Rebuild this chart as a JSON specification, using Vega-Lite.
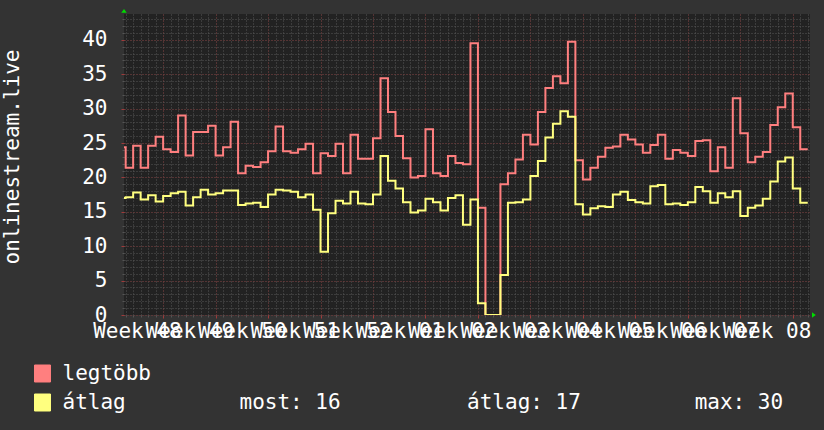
{
"$schema":"https://vega.github.io/schema/vega-lite/v6.json",
"width":686,"height":301,
"autosize":{"type":"none"},
"padding":{"left":124,"top":14,"right":14,"bottom":115},
"background":"#333333",
"config":{
  "view":{"fill":"#222222","stroke":null},
  "font":"DejaVu Sans Mono",
  "axis":{"labelFont":"DejaVu Sans Mono","titleFont":"DejaVu Sans Mono"},
  "legend":{"labelFont":"DejaVu Sans Mono"}
},
"layer":[
 {
  "data":{"values":[
{"day":-1,"legtöbb":24.4,"átlag":17.0},
{"day":0,"legtöbb":21.4,"átlag":17.1},
{"day":1,"legtöbb":24.6,"átlag":17.8},
{"day":2,"legtöbb":21.4,"átlag":16.8},
{"day":3,"legtöbb":24.6,"átlag":17.4},
{"day":4,"legtöbb":25.9,"átlag":16.5},
{"day":5,"legtöbb":24.1,"átlag":17.3},
{"day":6,"legtöbb":23.7,"átlag":17.7},
{"day":7,"legtöbb":29.0,"átlag":17.9},
{"day":8,"legtöbb":23.2,"átlag":15.9},
{"day":9,"legtöbb":26.6,"átlag":17.1},
{"day":10,"legtöbb":26.6,"átlag":18.2},
{"day":11,"legtöbb":27.5,"átlag":17.5},
{"day":12,"legtöbb":23.2,"átlag":17.7},
{"day":13,"legtöbb":24.4,"átlag":18.1},
{"day":14,"legtöbb":28.1,"átlag":18.1},
{"day":15,"legtöbb":20.6,"átlag":16.0},
{"day":16,"legtöbb":21.7,"átlag":16.2},
{"day":17,"legtöbb":21.5,"átlag":16.3},
{"day":18,"legtöbb":22.2,"átlag":15.7},
{"day":19,"legtöbb":23.8,"átlag":17.5},
{"day":20,"legtöbb":27.4,"átlag":18.2},
{"day":21,"legtöbb":23.8,"átlag":18.1},
{"day":22,"legtöbb":23.6,"átlag":17.9},
{"day":23,"legtöbb":24.1,"átlag":17.1},
{"day":24,"legtöbb":24.9,"átlag":17.5},
{"day":25,"legtöbb":20.6,"átlag":15.3},
{"day":26,"legtöbb":23.5,"átlag":9.2},
{"day":27,"legtöbb":23.1,"átlag":14.8},
{"day":28,"legtöbb":24.9,"átlag":16.6},
{"day":29,"legtöbb":20.6,"átlag":16.2},
{"day":30,"legtöbb":26.2,"átlag":17.9},
{"day":31,"legtöbb":22.7,"átlag":16.2},
{"day":32,"legtöbb":22.7,"átlag":16.1},
{"day":33,"legtöbb":25.7,"átlag":17.5},
{"day":34,"legtöbb":34.4,"átlag":23.1},
{"day":35,"legtöbb":29.5,"átlag":19.5},
{"day":36,"legtöbb":26.0,"átlag":18.4},
{"day":37,"legtöbb":22.8,"átlag":16.4},
{"day":38,"legtöbb":20.0,"átlag":14.9},
{"day":39,"legtöbb":20.2,"átlag":15.2},
{"day":40,"legtöbb":27.0,"átlag":16.9},
{"day":41,"legtöbb":20.6,"átlag":16.4},
{"day":42,"legtöbb":20.2,"átlag":15.2},
{"day":43,"legtöbb":23.1,"átlag":17.0},
{"day":44,"legtöbb":22.1,"átlag":17.4},
{"day":45,"legtöbb":21.9,"átlag":13.1},
{"day":46,"legtöbb":39.5,"átlag":16.8},
{"day":47,"legtöbb":15.6,"átlag":1.7},
{"day":48,"legtöbb":0,"átlag":0},
{"day":49,"legtöbb":0,"átlag":0},
{"day":50,"legtöbb":19.0,"átlag":5.8},
{"day":51,"legtöbb":20.6,"átlag":16.3},
{"day":52,"legtöbb":22.6,"átlag":16.4},
{"day":53,"legtöbb":26.2,"átlag":16.8},
{"day":54,"legtöbb":24.8,"átlag":20.2},
{"day":55,"legtöbb":29.5,"átlag":22.4},
{"day":56,"legtöbb":33.0,"átlag":25.8},
{"day":57,"legtöbb":34.7,"átlag":27.8},
{"day":58,"legtöbb":33.7,"átlag":29.6},
{"day":59,"legtöbb":39.7,"átlag":28.8},
{"day":60,"legtöbb":22.5,"átlag":16.1},
{"day":61,"legtöbb":19.7,"átlag":14.6},
{"day":62,"legtöbb":21.4,"átlag":15.5},
{"day":63,"legtöbb":23.0,"átlag":15.8},
{"day":64,"legtöbb":24.3,"átlag":15.7},
{"day":65,"legtöbb":24.5,"átlag":17.5},
{"day":66,"legtöbb":26.2,"átlag":17.9},
{"day":67,"legtöbb":25.5,"átlag":16.7},
{"day":68,"legtöbb":24.8,"átlag":16.4},
{"day":69,"legtöbb":23.6,"átlag":16.2},
{"day":70,"legtöbb":24.7,"átlag":18.7},
{"day":71,"legtöbb":26.2,"átlag":18.9},
{"day":72,"legtöbb":22.7,"átlag":16.1},
{"day":73,"legtöbb":24.0,"átlag":16.2},
{"day":74,"legtöbb":23.6,"átlag":16.0},
{"day":75,"legtöbb":23.1,"átlag":16.4},
{"day":76,"legtöbb":25.3,"átlag":18.6},
{"day":77,"legtöbb":25.4,"átlag":18.0},
{"day":78,"legtöbb":20.9,"átlag":16.3},
{"day":79,"legtöbb":24.4,"átlag":17.7},
{"day":80,"legtöbb":21.4,"átlag":17.1},
{"day":81,"legtöbb":31.5,"átlag":18.0},
{"day":82,"legtöbb":26.4,"átlag":14.4},
{"day":83,"legtöbb":22.2,"átlag":15.6},
{"day":84,"legtöbb":23.0,"átlag":15.9},
{"day":85,"legtöbb":23.7,"átlag":16.9},
{"day":86,"legtöbb":27.6,"átlag":19.4},
{"day":87,"legtöbb":30.2,"átlag":22.3},
{"day":88,"legtöbb":32.2,"átlag":22.9},
{"day":89,"legtöbb":27.3,"átlag":18.4},
{"day":90,"legtöbb":24.1,"átlag":16.3},
{"day":91,"legtöbb":24.1,"átlag":16.3}
  ]},
  "transform":[{"fold":["legtöbb","átlag"],"as":["series","value"]}],
  "mark":{"type":"line","interpolate":"step-after","strokeWidth":2,"clip":true},
  "encoding":{
   "x":{"field":"day","type":"quantitative",
        "scale":{"domain":[-0.22,91.3],"nice":false,"zero":false},
        "axis":{"orient":"bottom","values":[0,1,2,3,4,5,6,7,8,9,10,11,12,13,14,15,16,17,18,19,20,21,22,23,24,25,26,27,28,29,30,31,32,33,34,35,36,37,38,39,40,41,42,43,44,45,46,47,48,49,50,51,52,53,54,55,56,57,58,59,60,61,62,63,64,65,66,67,68,69,70,71,72,73,74,75,76,77,78,79,80,81,82,83,84,85,86,87,88,89,90,91],
                "grid":true,"gridColor":"#565656","gridDash":[1,2],"gridWidth":1,
                "labels":false,"ticks":true,"tickSize":2,"tickColor":"#555555","domain":false,"title":null}},
   "y":{"field":"value","type":"quantitative",
        "scale":{"domain":[0,43.75],"nice":false,"zero":false},
        "axis":{"orient":"left","values":[0,1,2,3,4,5,6,7,8,9,10,11,12,13,14,15,16,17,18,19,20,21,22,23,24,25,26,27,28,29,30,31,32,33,34,35,36,37,38,39,40,41,42,43],
                "grid":true,"gridColor":"#565656","gridDash":[1,2],"gridWidth":1,
                "labels":false,"ticks":true,"tickSize":2,"tickColor":"#555555","domain":false,"title":null}},
   "color":{"field":"series","type":"nominal",
            "scale":{"domain":["legtöbb","átlag"],"range":["#ff7f7f","#ffff7f"]},
            "legend":{"orient":"none","legendX":-92,"legendY":349,"direction":"vertical","title":null,
                      "symbolType":"M-0.94,-1H0.94V1H-0.94Z","symbolSize":289,
                      "symbolStrokeColor":"#000000","symbolStrokeWidth":1,
                      "labelFontSize":21,"labelColor":"#ffffff","labelLimit":0,"labelOffset":9.5,
                      "rowPadding":7,"padding":0,
                      "labelExpr":"datum.label == 'átlag' ? 'átlag\u00a0\u00a0\u00a0\u00a0\u00a0\u00a0\u00a0\u00a0\u00a0most:\u00a016\u00a0\u00a0\u00a0\u00a0\u00a0\u00a0\u00a0\u00a0\u00a0\u00a0átlag:\u00a017\u00a0\u00a0\u00a0\u00a0\u00a0\u00a0\u00a0\u00a0\u00a0max:\u00a030' : datum.label",
                      "encode":{"symbols":{"update":{"shape":{"value":"M-0.94,-1H0.94V1H-0.94Z"},"size":{"value":289},"fill":{"scale":"color","field":"value"},"fillOpacity":{"value":1},"stroke":{"value":"#000000"},"strokeWidth":{"value":1},"opacity":{"value":1}}}}}}
  }
 },
 {
  "data":{"values":[{}]},
  "mark":{"type":"point","shape":"M-1,0.7L0,-0.7L1,0.7Z","size":30,"filled":true,"color":"#00dd00","opacity":1,"clip":false},
  "encoding":{
   "x":{"datum":-0.22,"type":"quantitative","scale":{"domain":[-0.22,91.3],"nice":false,"zero":false},
        "axis":{"orient":"bottom","values":[5,12,19,26,33,40,47,54,61,68,75,82,89],
                "grid":true,"gridColor":"#6e2c2c","gridDash":[1,2],"gridWidth":1,
                "labels":false,"ticks":true,"tickSize":3,"tickColor":"#a03a3a","domain":false,"title":null}},
   "y":{"datum":44.2,"type":"quantitative","scale":{"domain":[0,43.75],"nice":false,"zero":false},
        "axis":{"orient":"left","values":[0,5,10,15,20,25,30,35,40],
                "grid":true,"gridColor":"#6e2c2c","gridDash":[1,2],"gridWidth":1,
                "labels":false,"ticks":true,"tickSize":3,"tickColor":"#a03a3a","domain":false,"title":null}}
  }
 },
 {
  "data":{"values":[{}]},
  "mark":{"type":"point","shape":"M-0.7,-1L0.7,0L-0.7,1Z","size":30,"filled":true,"color":"#00dd00","opacity":1,"clip":false},
  "encoding":{
   "x":{"datum":91.82,"type":"quantitative","scale":{"domain":[-0.22,91.3],"nice":false,"zero":false},
        "axis":{"orient":"bottom","values":[1.5,8.5,15.5,22.5,29.5,36.5,43.5,50.5,57.5,64.5,71.5,78.5,85.5],
                "labelExpr":"'Week ' + (datum.value < 36 ? format(48 + (datum.value - 1.5) / 7, 'd') : '0' + format((datum.value - 1.5) / 7 - 4, 'd'))",
                "grid":false,"ticks":false,"tickSize":0,"domain":false,"title":null,
                "labelFontSize":21,"labelColor":"#ffffff","labelPadding":22,"labelBaseline":"alphabetic",
                "labelOverlap":false,"labelFlush":false,"labelBound":false,"labelAlign":"center"}},
   "y":{"datum":0,"type":"quantitative","scale":{"domain":[0,43.75],"nice":false,"zero":false},
        "axis":{"orient":"left","values":[0,5,10,15,20,25,30,35,40],
                "grid":false,"ticks":false,"tickSize":0,"domain":false,
                "labelFontSize":21,"labelColor":"#ffffff","labelPadding":17,"labelOverlap":false,"labelFlush":false,
                "title":"onlinestream.live","titleFontSize":21,"titleFontWeight":"normal","titleColor":"#ffffff",
                "titleX":-105.5,"titleY":142.5,"titleAngle":270,"titleAlign":"center","titleBaseline":"alphabetic"}}
  }
 }
],
"resolve":{"axis":{"x":"independent","y":"independent"}}
}
